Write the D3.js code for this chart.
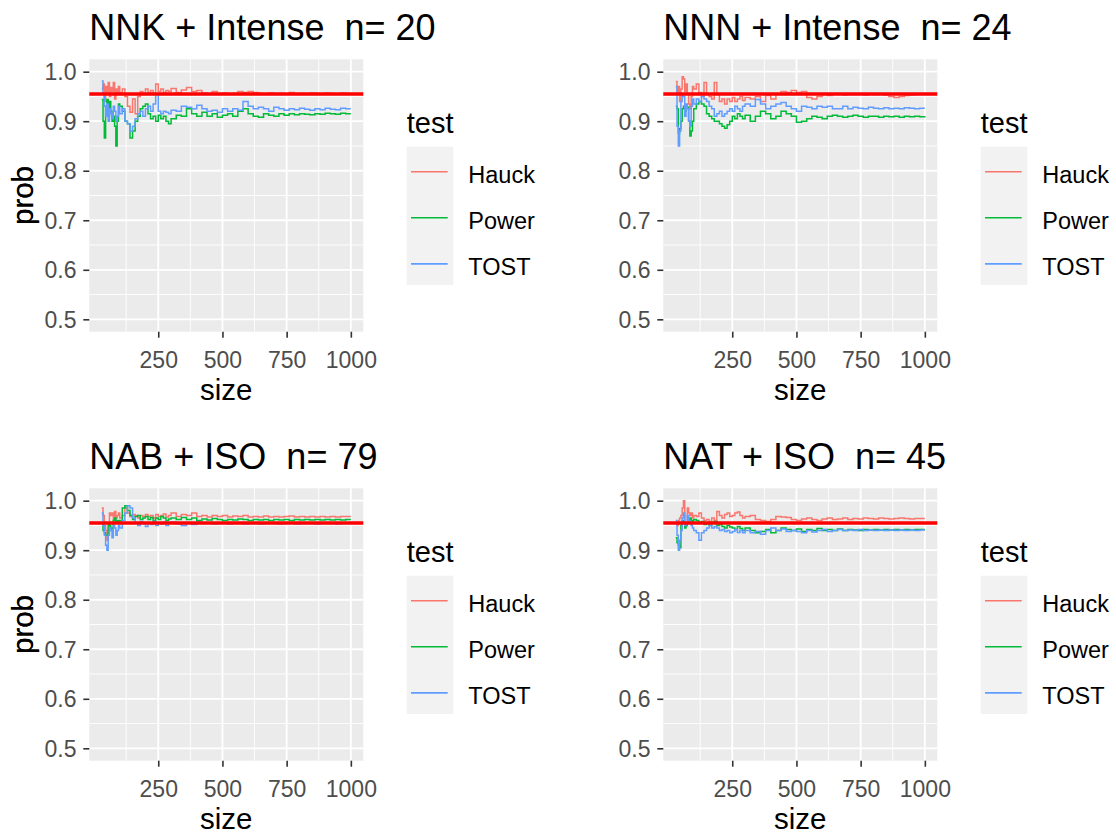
<!DOCTYPE html>
<html>
<head>
<meta charset="utf-8">
<script src="https://cdn.jsdelivr.net/npm/d3@7"></script>
<style>
  body { margin: 0; background: #fff; }
  svg { display: block; font-family: "Liberation Sans", Arial, sans-serif; }
</style>
</head>
<body>
<svg id="chart" width="1116" height="834"></svg>
<script>
// sample sizes shared by every panel
const sizes = [30,35,40,45,50,55,60,65,70,75,80,85,90,95,100,
  110,120,130,140,150,160,170,180,190,200,210,220,230,240,250,260,270,280,290,300,
  320,340,360,380,400,420,440,460,480,500,520,540,560,580,600,620,640,660,680,700,
  720,740,760,780,800,820,840,860,880,900,920,940,960,980,1000];

const nnkHauck = [.965,.975,.94,.97,.955,.978,.95,.968,.96,.978,.945,.965,.955,.97,.958,
  .965,.95,.93,.918,.945,.915,.95,.96,.955,.965,.958,.962,.955,.975,.96,.965,.958,.962,.96,.966,
  .958,.963,.968,.96,.962,.957,.955,.96,.955,.957,.955,.956,.96,.958,.96,.958,.956,.955,.957,.955,
  .956,.955,.958,.955,.956,.955,.957,.956,.955,.957,.956,.955,.957,.956,.956];
const nnkPower = [.944,.90,.866,.93,.944,.91,.94,.92,.90,.91,.89,.85,.90,.935,.93,
  .92,.90,.895,.866,.88,.90,.91,.925,.93,.935,.915,.905,.91,.90,.912,.905,.91,.90,.895,.905,
  .912,.91,.925,.915,.91,.918,.91,.915,.908,.912,.915,.91,.92,.925,.915,.91,.908,.915,.912,.91,
  .915,.912,.915,.913,.915,.914,.913,.915,.914,.916,.915,.914,.916,.915,.915];
const nnkTost = [.981,.955,.93,.91,.935,.90,.925,.915,.905,.93,.92,.90,.91,.93,.915,
  .925,.90,.895,.88,.89,.905,.915,.92,.91,.925,.93,.92,.935,.955,.92,.915,.92,.918,.915,.922,
  .92,.93,.928,.925,.932,.925,.92,.922,.918,.925,.92,.925,.922,.94,.93,.925,.928,.925,.92,.928,
  .925,.922,.925,.923,.926,.924,.922,.925,.923,.926,.924,.923,.926,.925,.925];

const nnnHauck = [.98,.955,.97,.94,.965,.99,.985,.96,.975,.955,.935,.925,.95,.97,.965,
  .975,.958,.95,.978,.955,.95,.945,.978,.955,.94,.945,.935,.945,.94,.948,.94,.945,.95,.942,.948,
  .945,.95,.94,.952,.945,.955,.96,.958,.962,.958,.96,.948,.945,.95,.955,.952,.955,.955,.953,.955,
  .954,.955,.953,.955,.954,.955,.953,.95,.948,.95,.952,.953,.954,.955,.955];
const nnnPower = [.93,.925,.875,.885,.90,.925,.93,.92,.93,.928,.90,.87,.88,.90,.925,
  .935,.94,.935,.93,.915,.91,.905,.90,.90,.895,.89,.886,.893,.90,.91,.905,.915,.91,.905,.912,
  .90,.91,.92,.915,.905,.91,.92,.915,.91,.898,.90,.905,.91,.908,.905,.91,.912,.91,.908,.91,
  .912,.91,.908,.91,.91,.908,.91,.909,.91,.908,.91,.909,.91,.909,.91];
const nnnTost = [.97,.89,.85,.88,.94,.955,.95,.91,.935,.925,.90,.89,.93,.945,.935,
  .945,.94,.95,.945,.94,.93,.925,.91,.915,.92,.91,.915,.92,.925,.92,.93,.925,.92,.93,.935,
  .93,.944,.935,.925,.93,.935,.938,.93,.925,.92,.93,.928,.925,.93,.928,.93,.925,.925,.93,.925,
  .928,.926,.925,.928,.926,.925,.927,.925,.926,.925,.927,.926,.925,.926,.926];

const nabHauck = [.985,.97,.95,.94,.92,.945,.975,.97,.975,.96,.978,.965,.97,.975,.965,
  .97,.985,.975,.968,.972,.97,.965,.97,.968,.972,.968,.97,.965,.972,.968,.97,.973,.967,.97,.975,
  .968,.972,.97,.975,.968,.97,.967,.97,.968,.97,.967,.969,.968,.97,.967,.968,.967,.969,.967,.968,
  .967,.968,.969,.967,.968,.967,.968,.967,.968,.967,.968,.967,.968,.968,.968];
const nabPower = [.955,.94,.935,.93,.93,.955,.95,.94,.945,.96,.965,.955,.96,.955,.96,
  .985,.99,.98,.97,.962,.968,.97,.962,.965,.968,.962,.966,.96,.965,.962,.968,.965,.96,.963,.965,
  .962,.966,.962,.965,.96,.963,.961,.964,.962,.96,.962,.961,.963,.962,.96,.962,.961,.962,.96,.962,
  .961,.962,.96,.962,.961,.962,.961,.962,.961,.962,.961,.962,.961,.962,.962];
const nabTost = [.975,.95,.93,.91,.90,.93,.945,.94,.925,.95,.945,.93,.94,.95,.945,
  .96,.975,.99,.985,.965,.955,.95,.958,.955,.948,.955,.952,.958,.95,.955,.953,.957,.95,.955,.957,
  .953,.95,.955,.952,.957,.954,.955,.953,.954,.955,.953,.954,.955,.953,.954,.955,.953,.954,.955,.954,
  .953,.954,.955,.953,.954,.955,.954,.953,.954,.955,.954,.953,.954,.955,.955];

const natHauck = [.955,.95,.96,.965,.97,.985,1.0,.955,.95,.985,.975,.97,.975,.965,.97,
  .968,.975,.965,.96,.962,.958,.965,.96,.978,.97,.965,.972,.975,.968,.97,.975,.977,.97,.965,.968,
  .97,.962,.96,.958,.962,.968,.967,.966,.962,.96,.963,.965,.962,.96,.963,.965,.962,.963,.965,.962,
  .964,.963,.965,.964,.963,.965,.964,.963,.964,.965,.964,.963,.964,.964,.964];
const natPower = [.925,.915,.91,.905,.95,.96,.955,.945,.95,.955,.96,.965,.96,.958,.962,
  .96,.955,.958,.952,.955,.95,.955,.958,.95,.952,.948,.945,.95,.947,.945,.942,.948,.944,.94,.945,
  .94,.935,.938,.942,.935,.94,.945,.942,.94,.943,.938,.942,.94,.944,.94,.942,.94,.943,.94,.942,
  .941,.94,.942,.941,.942,.941,.942,.941,.942,.941,.942,.941,.942,.942,.942];
const natTost = [.96,.93,.90,.92,.94,.965,.975,.95,.955,.97,.96,.955,.95,.945,.94,
  .935,.92,.935,.94,.945,.95,.945,.948,.945,.94,.942,.938,.94,.935,.938,.942,.936,.94,.935,.94,
  .935,.938,.932,.94,.945,.94,.943,.938,.94,.938,.935,.94,.937,.94,.942,.938,.94,.942,.94,.941,
  .94,.942,.94,.941,.94,.941,.94,.941,.94,.941,.94,.941,.94,.941,.941];

const panelTitles = ["NNK + Intense  n= 20", "NNN + Intense  n= 24",
                     "NAB + ISO  n= 79", "NAT + ISO  n= 45"];
const tests = ["Hauck", "Power", "TOST"];
const testColors = ["#F8766D", "#00BA38", "#619CFF"];
const refLevel = 0.955;
const xTicks = [250, 500, 750, 1000];
const yTicks = [0.5, 0.6, 0.7, 0.8, 0.9, 1.0];

const panels = [
  {title: panelTitles[0], series: [nnkHauck, nnkPower, nnkTost], left: 89.3, top: 59.3},
  {title: panelTitles[1], series: [nnnHauck, nnnPower, nnnTost], left: 663.3, top: 59.3},
  {title: panelTitles[2], series: [nabHauck, nabPower, nabTost], left: 89.3, top: 488.3},
  {title: panelTitles[3], series: [natHauck, natPower, natTost], left: 663.3, top: 488.3}
];

const pw = 274, ph = 272.4;
const svg = d3.select("#chart");

// ggplot style 5% padding around the data range
const xr = [d3.min(sizes), d3.max(sizes)];
const xpad = (xr[1] - xr[0]) * 0.05;
const x = d3.scaleLinear().domain([xr[0] - xpad, xr[1] + xpad]).range([0, pw]);
const y = d3.scaleLinear().domain([0.475, 1.025]).range([ph, 0]);

const xMinor = [125, 375, 625, 875];
const yMinor = [0.55, 0.65, 0.75, 0.85, 0.95];

function draw_panel(p) {
  let g = svg.append("g").attr("transform", `translate(${p.left},${p.top})`);

  g.append("rect").attr("width", pw).attr("height", ph).attr("fill", "#EBEBEB");

  // grid
  g.selectAll(".xminor").data(xMinor).enter().append("line")
    .attr("x1", d => x(d)).attr("x2", d => x(d)).attr("y1", 0).attr("y2", ph)
    .attr("stroke", "#fff").attr("stroke-width", 0.9);
  g.selectAll(".yminor").data(yMinor).enter().append("line")
    .attr("x1", 0).attr("x2", pw).attr("y1", d => y(d)).attr("y2", d => y(d))
    .attr("stroke", "#fff").attr("stroke-width", 0.9);
  g.selectAll(".xmajor").data(xTicks).enter().append("line")
    .attr("x1", d => x(d)).attr("x2", d => x(d)).attr("y1", 0).attr("y2", ph)
    .attr("stroke", "#fff").attr("stroke-width", 1.8);
  g.selectAll(".ymajor").data(yTicks).enter().append("line")
    .attr("x1", 0).attr("x2", pw).attr("y1", d => y(d)).attr("y2", d => y(d))
    .attr("stroke", "#fff").attr("stroke-width", 1.8);

  // series lines
  let line = d3.line().curve(d3.curveStepAfter).x((d, i) => x(sizes[i])).y(d => y(d));
  p.series.forEach((s, k) => {
    g.append("path").datum(s)
      .attr("d", line)
      .attr("fill", "none")
      .attr("stroke", testColors[k])
      .attr("stroke-width", 1.5);
  });

  // reference level
  g.append("line")
    .attr("x1", 0).attr("x2", pw)
    .attr("y1", y(refLevel)).attr("y2", y(refLevel))
    .attr("stroke", "#FF0000").attr("stroke-width", 3.6);

  // axes
  let xAxis = d3.axisBottom(x).tickValues(xTicks).tickFormat(d3.format("d")).tickSize(6);
  let ax = g.append("g").attr("transform", `translate(0,${ph})`).call(xAxis);
  let yAxis = d3.axisLeft(y).tickValues(yTicks).tickFormat(d3.format(".1f")).tickSize(6);
  let ay = g.append("g").call(yAxis);
  [ax, ay].forEach(a => {
    a.select(".domain").remove();
    a.selectAll(".tick line").attr("stroke", "#333").attr("stroke-width", 1.6);
    a.selectAll(".tick text").attr("fill", "#4D4D4D")
      .style("font-size", "23px").style("font-family", "Liberation Sans, Arial, sans-serif");
  });
  ax.selectAll(".tick text").attr("dy", null).attr("y", 36);
  ay.selectAll(".tick text").attr("dy", "0.35em").attr("x", -12.8);

  // titles
  g.append("text").attr("x", 0).attr("y", -19.3)
    .style("font-size", "36px").style("white-space", "pre").attr("fill", "#000").text(p.title);
  g.append("text").attr("x", pw / 2).attr("y", ph + 68)
    .attr("text-anchor", "middle").style("font-size", "29.5px").text("size");
  g.append("text")
    .attr("transform", `translate(${33 - p.left},${ph / 2}) rotate(-90)`)
    .attr("text-anchor", "middle").style("font-size", "29.5px").text("prob");

  // legend
  let lg = g.append("g").attr("transform", `translate(317.4,0)`);
  lg.append("text").attr("x", 0).attr("y", 74).style("font-size", "29px").text("test");
  lg.append("rect").attr("x", 0).attr("y", 87.4).attr("width", 46.6).attr("height", 138.3)
    .attr("fill", "#F2F2F2");
  tests.forEach((t, k) => {
    let cy = 112.4 + 46.1 * k;
    lg.append("line").attr("x1", 4.3).attr("x2", 41).attr("y1", cy).attr("y2", cy)
      .attr("stroke", testColors[k]).attr("stroke-width", 1.6);
    lg.append("text").attr("x", 61.6).attr("y", cy + 11)
      .style("font-size", "23.5px").text(t);
  });
}

panels.forEach(draw_panel);
</script>
</body>
</html>
